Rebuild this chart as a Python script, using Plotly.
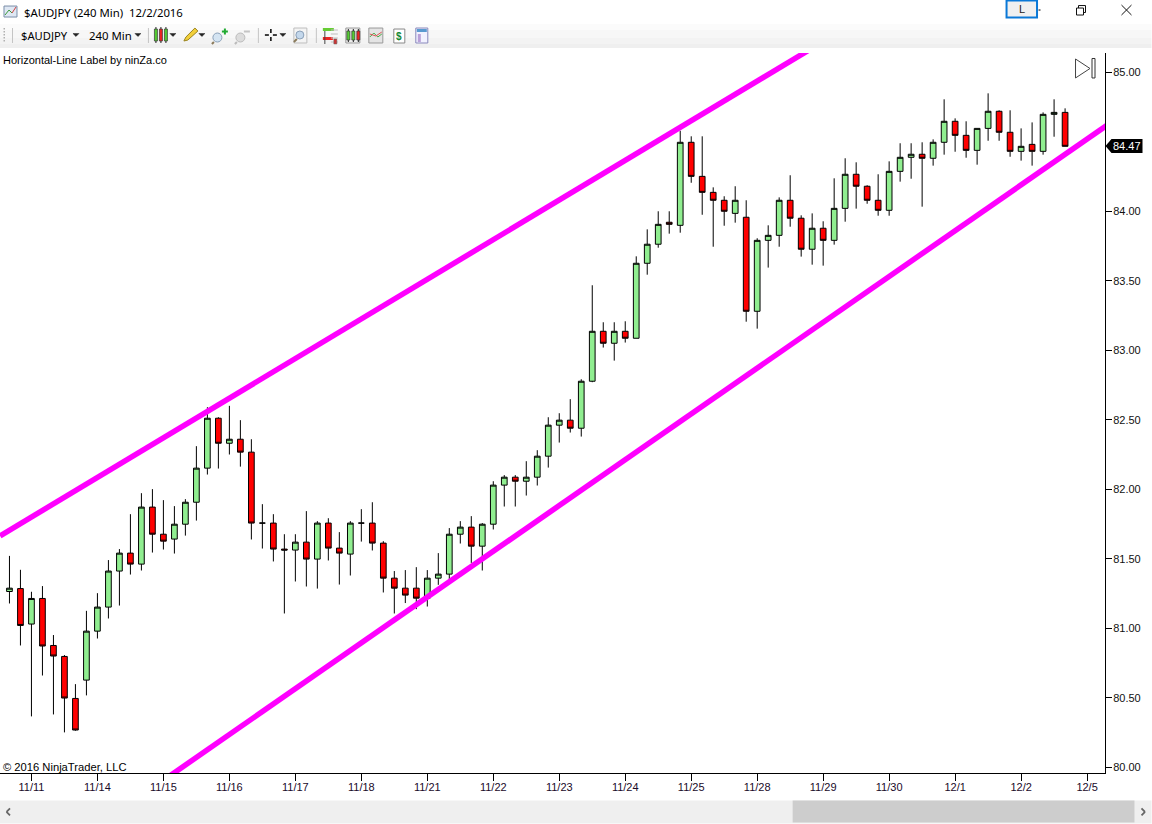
import plotly.graph_objects as go

opens = [81.265,81.286,81.031,81.215,80.877,80.798,80.496,80.628,80.980,81.153,81.412,81.541,81.462,81.872,81.677,81.642,81.749,81.907,82.152,82.511,82.331,82.360,82.267,81.757,81.757,81.570,81.563,81.620,81.498,81.757,81.577,81.534,81.757,81.757,81.613,81.361,81.289,81.289,81.217,81.361,81.390,81.677,81.728,81.591,81.749,82.030,82.087,82.058,82.087,82.238,82.461,82.497,82.439,82.777,83.136,83.050,83.136,83.086,83.625,83.762,83.920,83.898,84.495,84.250,84.135,84.078,83.984,83.956,83.280,83.790,83.826,84.078,83.949,83.726,83.877,83.790,84.020,84.265,84.179,84.078,84.006,84.286,84.387,84.409,84.380,84.495,84.646,84.545,84.437,84.595,84.718,84.567,84.430,84.480,84.430,84.696,84.710]
highs = [81.521,81.421,81.263,81.304,80.952,80.808,80.599,81.126,81.253,81.491,81.570,81.821,81.972,82.001,81.922,81.879,81.929,82.310,82.590,82.518,82.600,82.497,82.360,81.893,81.821,81.677,81.677,81.843,81.771,81.792,81.692,81.771,81.857,81.907,81.627,81.412,81.419,81.440,81.419,81.541,81.721,81.771,81.807,81.757,82.058,82.102,82.102,82.202,82.281,82.518,82.547,82.648,82.791,83.467,83.201,83.201,83.208,83.675,83.869,83.999,83.999,84.578,84.538,84.538,84.171,84.107,84.179,84.078,83.805,83.898,84.099,84.258,83.970,83.984,83.927,84.236,84.380,84.351,84.186,84.265,84.358,84.488,84.488,84.495,84.516,84.804,84.667,84.646,84.595,84.847,84.725,84.725,84.595,84.638,84.710,84.804,84.739]
lows = [81.179,80.877,80.367,80.661,80.381,80.252,80.264,80.518,80.927,81.071,81.164,81.387,81.416,81.545,81.567,81.538,81.667,81.775,82.106,82.149,82.250,82.163,81.639,81.574,81.481,81.107,81.337,81.301,81.286,81.488,81.315,81.380,81.624,81.560,81.258,81.107,81.182,81.138,81.157,81.313,81.349,81.610,81.471,81.416,81.711,81.876,81.876,81.955,82.027,82.156,82.336,82.408,82.379,82.770,83.019,82.925,83.055,83.086,83.543,83.737,83.838,83.845,84.204,83.974,83.744,83.895,83.917,83.205,83.155,83.594,83.744,83.888,83.673,83.615,83.608,83.759,83.924,84.018,84.053,83.967,83.967,84.212,84.233,84.032,84.327,84.406,84.427,84.384,84.334,84.506,84.506,84.391,84.363,84.327,84.406,84.535,84.466]
closes = [81.289,81.021,81.215,80.873,80.801,80.499,80.269,80.980,81.153,81.412,81.541,81.462,81.872,81.677,81.627,81.749,81.907,82.152,82.511,82.331,82.360,82.267,81.757,81.757,81.570,81.563,81.620,81.498,81.757,81.577,81.541,81.757,81.757,81.613,81.361,81.289,81.239,81.217,81.361,81.390,81.677,81.728,81.591,81.749,82.030,82.087,82.058,82.087,82.238,82.461,82.497,82.439,82.777,83.136,83.050,83.136,83.086,83.625,83.762,83.905,83.905,84.495,84.250,84.135,84.078,83.999,84.078,83.280,83.790,83.826,84.078,83.949,83.726,83.877,83.790,84.020,84.265,84.179,84.078,84.006,84.286,84.387,84.409,84.380,84.495,84.646,84.545,84.437,84.595,84.718,84.567,84.430,84.466,84.430,84.696,84.710,84.466]
bar_index = list(range(len(opens)))

date_tick_bars = [2,8,14,20,26,32,38,44,50,56,62,68,74,80,86,92,98]
date_labels = ["11/11","11/14","11/15","11/16","11/17","11/18","11/21","11/22","11/23","11/24","11/25","11/28","11/29","11/30","12/1","12/2","12/5"]
price_ticks = [80.0,80.5,81.0,81.5,82.0,82.5,83.0,83.5,84.0,85.0]
price_labels = ["80.00","80.50","81.00","81.50","82.00","82.50","83.00","83.50","84.00","85.00"]
last_price = 84.47
upper_x = [-0.85, 74.6]
upper_y = [81.665, 85.248]
lower_x = [12.77, 100.95]
lower_y = [79.840, 84.680]
x_range = [-0.86, 99.63]
y_range = [79.96, 85.137]

W, H = 1152, 824
L, R, T, B = 0, 1105.5, 53, 773.5
FONT = "Liberation Sans"
def px(x): return (x - L) / (R - L)
def py(y): return (B - y) / (B - T)

shapes, notes = [], []
def rect(x0, y0, x1, y1, fill, line=None, w=1):
    shapes.append(dict(type="rect", xref="paper", yref="paper", x0=px(x0), x1=px(x1), y0=py(y0), y1=py(y1),
                       fillcolor=fill, line=dict(color=line or "rgba(0,0,0,0)", width=w if line else 0)))
def seg(x0, y0, x1, y1, color="#000000", w=1):
    shapes.append(dict(type="line", xref="paper", yref="paper", x0=px(x0), x1=px(x1), y0=py(y0), y1=py(y1),
                       line=dict(color=color, width=w)))
def poly(pts, fill="rgba(0,0,0,0)", line="#000000", w=1):
    p = "M " + " L ".join(f"{px(a):.5f},{py(b):.5f}" for a, b in pts) + " Z"
    shapes.append(dict(type="path", xref="paper", yref="paper", path=p, fillcolor=fill,
                       line=dict(color=line, width=w)))
def circ(x0, y0, x1, y1, fill, line="#8aa0b8"):
    shapes.append(dict(type="circle", xref="paper", yref="paper", x0=px(x0), x1=px(x1), y0=py(y0), y1=py(y1),
                       fillcolor=fill, line=dict(color=line, width=1)))
def txt(x, y, s, size=11, color="#000000", family=FONT, anchor="left"):
    notes.append(dict(xref="paper", yref="paper", x=px(x), y=py(y), text=s, showarrow=False, xanchor=anchor,
                      yanchor="middle", borderpad=0, font=dict(family=family, size=size, color=color)))
def arrow(x, y):
    poly([(x - 3, y - 1.5), (x + 3, y - 1.5), (x, y + 1.5)], fill="#222222", line="#222222", w=0.5)
def candles(x, y0, y1, cols=("#55cc33", "#ee2222", "#55cc33")):
    for i, c in enumerate(cols):
        cx = x + 2 + i * 5
        seg(cx, y0 - 1, cx, y1 + 1, "#222222", 1)
        rect(cx - 1.5, y0 + 1, cx + 1.5, y1 - 1, c, "#333333", 0.7)

# window chrome: toolbar strip and scrollbar
rect(0, 24, W, 30, "#fbfbfb"); rect(0, 30, W, 38, "#f7f7f7"); rect(0, 38, W, 44, "#f3f3f3"); rect(0, 44, W, 48, "#efefef")
rect(0, 801, W, 824, "#efefef"); rect(793, 801, 1135, 823, "#cdcdcd")
seg(10, 809, 6.5, 812.5, "#666666", 1.8); seg(6.5, 812.5, 10, 816, "#666666", 1.8)
seg(1142, 809, 1145.5, 812.5, "#666666", 1.8); seg(1145.5, 812.5, 1142, 816, "#666666", 1.8)

# title bar
rect(4, 6, 17, 17, "#dfe8f4", "#7a8ea8", 1)
seg(5, 15, 9, 10, "#3a9a3a", 1); seg(9, 10, 12, 13, "#3a9a3a", 1); seg(12, 13, 16, 7, "#d04040", 1)
txt(23, 12, "$AUDJPY (240 Min)  12/2/2016", size=11.35, family="Noto Sans")
rect(1007, 0.5, 1037.5, 17.5, "#f0f0f0", "#0a78d7", 2)
txt(1022.5, 9, "L", size=11, color="#222222", anchor="center")
seg(1039, 10, 1041, 10, "#000000", 1)
rect(1079, 5.5, 1086, 12.5, "rgba(0,0,0,0)", "#111111", 1); rect(1077, 8, 1084, 15, "#ffffff", "#111111", 1)
seg(1122, 5, 1132, 15, "#111111", 1); seg(1132, 5, 1122, 15, "#111111", 1)

# toolbar
for yy in (28, 31, 34, 37, 40):
    rect(3.5, yy, 5, yy + 1.5, "#b0b0b0")
for xx in (12.5, 148.5, 258.5, 316.5):
    seg(xx, 28, xx, 43, "#c4c4c4", 1)
txt(20, 35, "$AUDJPY", size=11.2, family="Noto Sans")
arrow(76, 35)
txt(88, 35, "240 Min", size=11.4, family="Noto Sans")
arrow(138, 35)
candles(154, 28, 42)
arrow(173, 35)
poly([(184, 41), (186, 37), (195, 28), (198, 31), (188, 40)], fill="#f2cf3a", line="#9a8420", w=1)
arrow(202, 35)
circ(213, 33, 222, 42, "#d4e4f2"); seg(214, 42, 212, 44, "#8a7a5a", 2)
rect(222, 30.5, 228, 32.5, "#22aa33"); rect(224, 28.5, 226, 34.5, "#22aa33")
circ(236, 33, 245, 42, "#dcdcdc", "#bbbbbb"); seg(237, 42, 235, 44, "#bbbbbb", 2); rect(244, 30.5, 250, 32.5, "#c4c4c4")
seg(265, 35, 269, 35, "#000000", 1.5); seg(273, 35, 277, 35, "#000000", 1.5); seg(271, 29, 271, 33, "#000000", 1.5); seg(271, 37, 271, 41, "#000000", 1.5)
arrow(283, 35)
rect(294, 28, 307, 43, "#f4f4f4", "#bdbdbd", 1); circ(296, 31, 304, 39, "#c4d8ec"); seg(297, 39, 294, 42, "#8a7a5a", 2)
rect(323, 28, 334, 31, "#66cc33"); rect(323, 37, 333, 40, "#ee2222"); seg(325, 31, 325, 44, "#444444", 1)
for yy in (30, 34, 38, 42):
    seg(331, yy, 338, yy, "#bdbdbd", 1)
rect(334, 39, 337, 44, "#cc3333", "#666666", 0.5)
rect(346, 28, 360, 43, "#eeeeee", "#999999", 1); candles(346.5, 30, 41, ("#55cc33", "#55cc33", "#ee2222"))
rect(369, 28, 383, 43, "#e4e4e4", "#999999", 1); seg(370, 37, 374, 33, "#44aa44", 1); seg(374, 33, 378, 37, "#44aa44", 1); seg(378, 37, 382, 34, "#44aa44", 1); seg(370, 34, 376, 36, "#dd5555", 1); seg(376, 36, 382, 32, "#dd5555", 1)
rect(394, 29, 405, 43, "#ffffff", "#888888", 1); txt(399.5, 36, "<b>$</b>", size=10, color="#118833", anchor="center")
rect(416, 28, 428, 43, "#f2f2ff", "#8888bb", 1); rect(417, 29, 427, 32, "#5a9ad0"); rect(418, 34, 421, 42, "#b9a0d8")

# chart furniture
txt(2.5, 60, "Horizontal-Line Label by ninZa.co", size=11)
txt(2.5, 767, "© 2016 NinjaTrader, LLC", size=11.2)
poly([(1076, 59), (1076, 78), (1090.5, 68.5)], fill="rgba(0,0,0,0)", line="#444444", w=1)
rect(1092.5, 58.5, 1095.5, 78, "#ffffff", "#333333", 1)
poly([(1106, 146), (1112, 139), (1143, 139), (1143, 153), (1112, 153)], fill="#000000", line="#000000", w=0)
txt(1113, 146.5, f"{last_price:.2f}", size=11, color="#ffffff")

fig = go.Figure()
fig.add_trace(go.Scatter(x=upper_x, y=upper_y, mode="lines", line=dict(color="#ff00ff", width=5.5), hoverinfo="skip", showlegend=False))
fig.add_trace(go.Scatter(x=lower_x, y=lower_y, mode="lines", line=dict(color="#ff00ff", width=5.5), hoverinfo="skip", showlegend=False))
fig.add_trace(go.Candlestick(
    x=bar_index, open=opens, high=highs, low=lows, close=closes,
    increasing=dict(fillcolor="#90ee90", line=dict(color="#000000", width=1)),
    decreasing=dict(fillcolor="#ff0000", line=dict(color="#000000", width=1)),
    whiskerwidth=0, showlegend=False))

fig.update_layout(
    width=W, height=H, autosize=False,
    margin=dict(l=L, r=W - R, t=T, b=H - B, pad=0),
    paper_bgcolor="#ffffff", plot_bgcolor="#ffffff",
    boxgap=0.26, showlegend=False,
    font=dict(family=FONT, size=11, color="#111111"),
    shapes=shapes, annotations=notes,
    xaxis=dict(type="linear", range=x_range, tickmode="array", tickvals=date_tick_bars, ticktext=date_labels,
               rangeslider=dict(visible=False), showgrid=False, zeroline=False, showline=True, linecolor="#000000",
               linewidth=1, ticks="outside", ticklen=7, tickwidth=1, tickcolor="#000000", ticklabelstandoff=-3,
               tickfont=dict(family=FONT, size=11, color="#1a0a2a")),
    yaxis=dict(side="right", range=y_range, tickmode="array", tickvals=price_ticks, ticktext=price_labels,
               showgrid=False, zeroline=False, showline=True, linecolor="#000000", linewidth=1, ticks="outside",
               ticklen=6, tickwidth=1, tickcolor="#000000", ticklabelstandoff=-1,
               tickfont=dict(family=FONT, size=11, color="#111111")),
)

fig.write_html("out.html", config={"displayModeBar": False},
               post_script="document.body.style.margin='0';document.body.style.overflow='hidden';")
